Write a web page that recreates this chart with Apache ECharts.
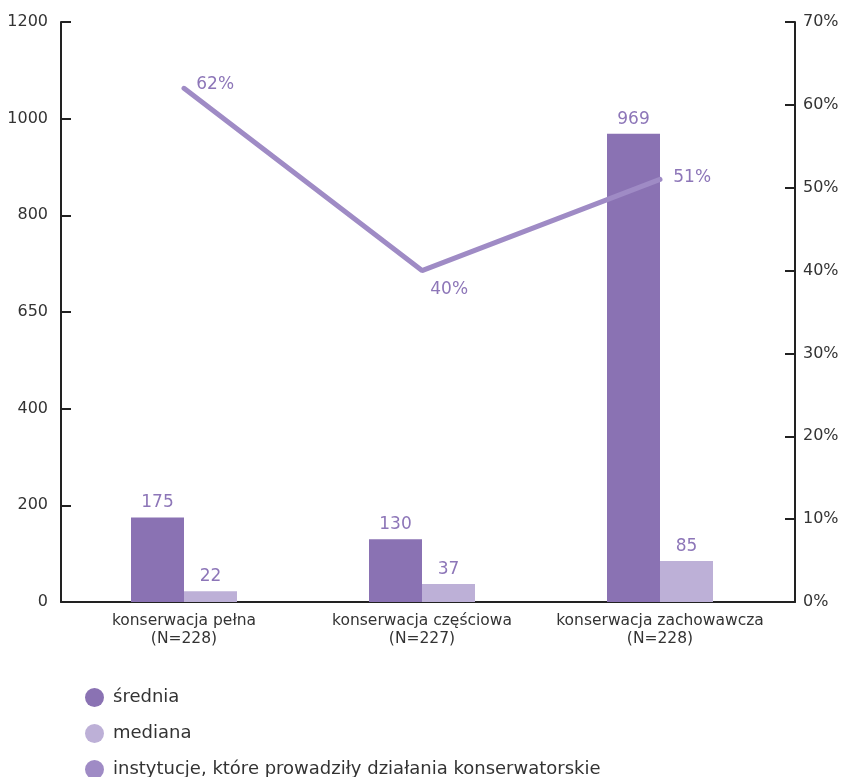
<!DOCTYPE html>
<html>
<head>
<meta charset="utf-8">
<script src="https://cdn.jsdelivr.net/npm/echarts@6/dist/echarts.min.js"></script>
<style>html,body{margin:0;padding:0;background:#fff}#c{width:843px;height:777px}</style>
</head>
<body>
<div id="c"></div>
<script>
const categories = ['konserwacja pełna\n(N=228)', 'konserwacja częściowa\n(N=227)', 'konserwacja zachowawcza\n(N=228)'];
const sredniaValues = [175, 130, 969];
const medianaValues = [22, 37, 85];
const instytucjeValues = [62, 40, 51];
const leftTickLabels = ['0', '200', '400', '650', '800', '1000', '1200'];
const rightTickLabels = ['0%', '10%', '20%', '30%', '40%', '50%', '60%', '70%'];

const FONT = 'DejaVu Sans';
const dark = '#8a72b3';
const light = '#bdb0d7';
const lineColor = '#9f8bc5';
const labelColor = '#8d76b8';

const lineLabelStyles = [
  { position: 'right', distance: 12, offset: [0, -4] },
  { position: 'right', distance: 8, offset: [0, 19] },
  { position: 'right', distance: 13, offset: [0, -2] }
];

const chart = echarts.init(document.getElementById('c'));
chart.setOption({
  animation: false,
  textStyle: { fontFamily: FONT },
  grid: [
    { left: 61, right: 48, top: 22, bottom: 175 },
    { left: 65, right: 64, top: 22, bottom: 175 }
  ],
  legend: {
    orient: 'vertical', left: 85, top: 688, itemGap: 17, height: 200, padding: 0,
    itemWidth: 19, itemHeight: 19, icon: 'circle',
    textStyle: { fontSize: 18, lineHeight: 19, color: '#333', fontFamily: FONT, padding: [0, 0, 0, 4] },
    data: ['średnia', 'mediana', 'instytucje, które prowadziły działania konserwatorskie']
  },
  xAxis: [
    { gridIndex: 0, type: 'value', min: 0, max: 1,
      axisLine: { show: true, lineStyle: { color: '#222', width: 2 } },
      axisTick: { show: false }, axisLabel: { show: false }, splitLine: { show: false } },
    { gridIndex: 1, type: 'category', data: categories,
      axisLine: { show: false }, axisTick: { show: false },
      axisLabel: { color: '#333', fontSize: 15.5, lineHeight: 18, margin: 10, fontFamily: FONT, interval: 0 } }
  ],
  yAxis: [
    { gridIndex: 0, type: 'value', min: 0, max: 1200, interval: 200, position: 'left',
      axisLine: { show: true, lineStyle: { color: '#222', width: 2 } },
      axisTick: { show: true, inside: true, length: 10, lineStyle: { color: '#222', width: 2 } },
      axisLabel: { color: '#333', fontSize: 16, margin: 13, fontFamily: FONT,
        formatter: (v) => leftTickLabels[Math.round(v / 200)] },
      splitLine: { show: false } },
    { gridIndex: 0, type: 'value', min: 0, max: 70, interval: 10, position: 'right',
      axisLine: { show: true, lineStyle: { color: '#222', width: 2 } },
      axisTick: { show: true, inside: true, length: 10, lineStyle: { color: '#222', width: 2 } },
      axisLabel: { color: '#333', fontSize: 16, margin: 8, fontFamily: FONT,
        formatter: (v) => rightTickLabels[Math.round(v / 10)] },
      splitLine: { show: false } },
    { gridIndex: 1, type: 'value', min: 0, max: 1200, show: false, splitLine: { show: false } },
    { gridIndex: 1, type: 'value', min: 0, max: 70, show: false, splitLine: { show: false } }
  ],
  series: [
    { name: 'średnia', type: 'bar', xAxisIndex: 1, yAxisIndex: 2, data: sredniaValues,
      barWidth: 53, barGap: '0%', itemStyle: { color: dark },
      label: { show: true, position: 'top', distance: 6, color: labelColor, fontSize: 17, fontFamily: FONT } },
    { name: 'mediana', type: 'bar', xAxisIndex: 1, yAxisIndex: 2, data: medianaValues,
      barWidth: 53, barGap: '0%', itemStyle: { color: light },
      label: { show: true, position: 'top', distance: 6, color: labelColor, fontSize: 17, fontFamily: FONT } },
    { name: 'instytucje, które prowadziły działania konserwatorskie', type: 'line',
      xAxisIndex: 1, yAxisIndex: 3,
      data: instytucjeValues.map((v, i) => ({ value: v, label: lineLabelStyles[i] })),
      symbol: 'circle', symbolSize: 0.5, showSymbol: true, z: 5,
      lineStyle: { color: lineColor, width: 5, cap: 'round' },
      itemStyle: { color: lineColor },
      label: { show: true, color: labelColor, fontSize: 17, fontFamily: FONT,
        formatter: (p) => p.value + '%' } }
  ]
});
</script>
</body>
</html>
